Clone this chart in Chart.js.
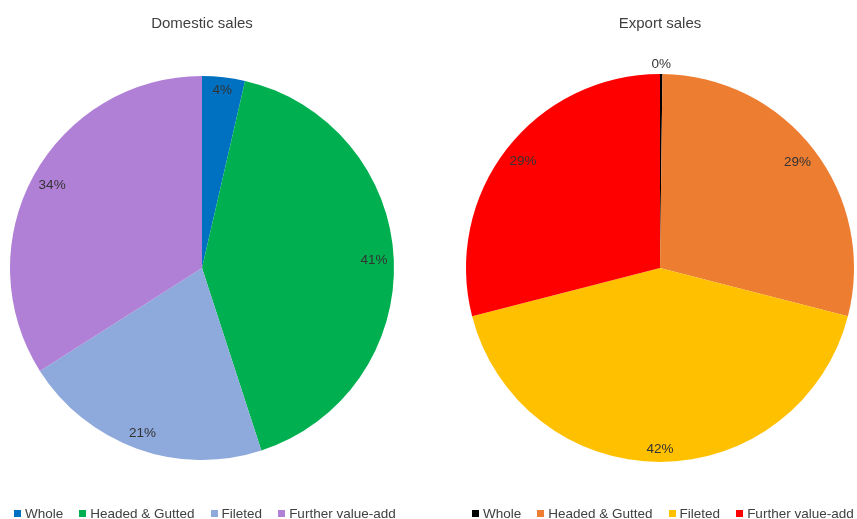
<!DOCTYPE html>
<html>
<head>
<meta charset="utf-8">
<script src="https://cdn.jsdelivr.net/npm/chart.js@4/dist/chart.umd.min.js"></script>
<style>
  body { margin: 0; background: #fff; }
  #wrap { position: relative; width: 857px; height: 519px; overflow: hidden; font-family: "Liberation Sans", Arial, sans-serif; }
  .box { position: absolute; top: 0; height: 519px; }
  .title { position: absolute; top: 14px; font-size: 15px; color: #404040; text-align: center; }
  .legend { position: absolute; top: 506px; display: flex; font-size: 13.5px; color: #404040; white-space: nowrap; }
  .legend span.item { display: flex; align-items: center; margin-right: 16px; }
  .legend span.sw { width: 7px; height: 7px; margin-right: 4px; display: inline-block; }
</style>
</head>
<body>
<div id="wrap">
  <div class="box" style="left:0;width:428px"><canvas id="domestic"></canvas></div>
  <div class="box" style="left:428px;width:429px"><canvas id="export"></canvas></div>
  <div class="title" style="left:102px;width:200px">Domestic sales</div>
  <div class="title" style="left:560px;width:200px">Export sales</div>
  <div class="legend" id="legend-domestic" style="left:14px"></div>
  <div class="legend" id="legend-export" style="left:472px"></div>
</div>
<script>
// categories and shares (%)
const categories = ["Whole", "Headed & Gutted", "Fileted", "Further value-add"];
const domesticValues = [3.6, 41.4, 21, 34];
const exportValues = [0.2, 28.8, 42, 29];

const domesticColors = ["#0070c0", "#00b050", "#8ea9db", "#b07fd6"];
const exportColors = ["#000000", "#ed7d31", "#ffc000", "#ff0000"];

// percentage labels placed just inside the slice edge (outside when too thin)
const pieLabels = {
  id: "pieLabels",
  afterDatasetsDraw(chart) {
    const ctx = chart.ctx;
    const meta = chart.getDatasetMeta(0);
    const data = chart.data.datasets[0].data;
    const total = data.reduce((a, b) => a + b, 0);
    ctx.save();
    ctx.font = "13.5px 'Liberation Sans', Arial, sans-serif";
    ctx.fillStyle = "#333333";
    ctx.textAlign = "center";
    ctx.textBaseline = "middle";
    meta.data.forEach((arc, i) => {
      const p = arc.getProps(["x", "y", "startAngle", "endAngle", "outerRadius"], true);
      const mid = (p.startAngle + p.endAngle) / 2;
      const text = Math.round(data[i] / total * 100) + "%";
      const w = ctx.measureText(text).width;
      const h = 13;
      const ext = Math.abs(Math.cos(mid)) * w / 2 + Math.abs(Math.sin(mid)) * h / 2;
      let d;
      if (data[i] / total < 0.01) {
        d = p.outerRadius + 3 + ext;
      } else {
        d = p.outerRadius - 6 - ext;
      }
      ctx.fillText(text, p.x + Math.cos(mid) * d, p.y + Math.sin(mid) * d);
    });
    ctx.restore();
  }
};

function makePie(id, values, colors, padding) {
  return new Chart(document.getElementById(id), {
    type: "pie",
    data: {
      labels: categories,
      datasets: [{
        data: values,
        backgroundColor: colors,
        borderWidth: 0
      }]
    },
    options: {
      responsive: true,
      maintainAspectRatio: false,
      animation: false,
      layout: { padding: padding },
      plugins: {
        legend: { display: false },
        title: { display: false },
        tooltip: { enabled: false }
      }
    },
    plugins: [pieLabels]
  });
}

function makeLegend(id, colors) {
  const el = document.getElementById(id);
  categories.forEach((c, i) => {
    const item = document.createElement("span");
    item.className = "item";
    const sw = document.createElement("span");
    sw.className = "sw";
    sw.style.background = colors[i];
    item.appendChild(sw);
    item.appendChild(document.createTextNode(c));
    el.appendChild(item);
  });
}

makePie("domestic", domesticValues, domesticColors, { left: 10, right: 34, top: 76, bottom: 59 });
makePie("export", exportValues, exportColors, { left: 38, right: 3, top: 74, bottom: 57 });
makeLegend("legend-domestic", domesticColors);
makeLegend("legend-export", exportColors);
</script>
</body>
</html>
